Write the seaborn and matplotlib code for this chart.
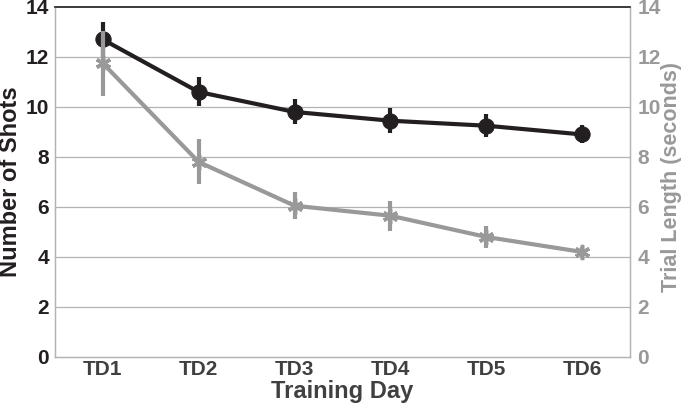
import numpy as np
import pandas as pd
import seaborn as sns
import matplotlib
matplotlib.use("Agg")
import matplotlib.pyplot as plt

# data
days = ["TD1", "TD2", "TD3", "TD4", "TD5", "TD6"]
shots = [12.7, 10.6, 9.8, 9.45, 9.25, 8.9]
shots_err = [0.7, 0.58, 0.5, 0.5, 0.45, 0.36]
trial_len = [11.75, 7.8, 6.05, 5.65, 4.8, 4.2]
trial_err = [1.3, 0.9, 0.55, 0.6, 0.45, 0.2]

BLACK = "#231f20"
GRAY = "#999999"
GRID = "#b3b3b3"

sns.set_theme(style="white")
plt.rcParams["font.family"] = ["Liberation Sans", "DejaVu Sans"]
plt.rcParams["font.weight"] = "bold"

df = pd.DataFrame({"day": days, "x": np.arange(len(days)), "shots": shots,
                   "shots_err": shots_err, "trial": trial_len, "trial_err": trial_err})

fig = plt.figure(figsize=(6.85, 4.08), dpi=100)
ax = fig.add_axes([0.080, 0.125, 0.840, 0.858])
ax2 = ax.twinx()

for y in range(2, 14, 2):
    ax.axhline(y, color=GRID, lw=0.9, zorder=0)

# black series: shots
ax.errorbar(df["x"], df["shots"], yerr=df["shots_err"], fmt="none",
            ecolor=BLACK, elinewidth=3, capsize=0, zorder=2)
sns.lineplot(data=df, x="x", y="shots", ax=ax, color=BLACK, lw=3,
             marker="o", markersize=11, markeredgecolor=BLACK, zorder=3)

# gray series: trial length
ax2.errorbar(df["x"], df["trial"], yerr=df["trial_err"], fmt="none",
             ecolor=GRAY, elinewidth=3, capsize=0, zorder=2)
sns.lineplot(data=df, x="x", y="trial", ax=ax2, color=GRAY, lw=3,
             marker=(6, 2, 0), markersize=11, markeredgewidth=2.5,
             markeredgecolor=GRAY, zorder=3)

for a in (ax, ax2):
    a.set_xlim(-0.5, 5.5)
    a.set_ylim(0, 14)
    a.set_yticks(range(0, 15, 2))
    for s in a.spines.values():
        s.set_color(GRID)
        s.set_linewidth(0.9)
    a.spines["top"].set_color("#3a3a3a")
    a.spines["top"].set_linewidth(1.2)

ax.set_xticks(df["x"])
ax.set_xticklabels(days)
ax.tick_params(axis="x", length=0, labelsize=15, labelcolor="#404040", pad=2)
ax.tick_params(axis="y", length=0, labelsize=15, labelcolor=BLACK, pad=4)
ax2.tick_params(axis="y", length=0, labelsize=15, labelcolor=GRAY, pad=5)

ax.set_xlabel("Training Day", fontsize=17, fontweight="bold", color="#404040")
ax.set_ylabel("Number of Shots", fontsize=17, fontweight="bold", color=BLACK)
ax2.set_ylabel("Trial Length (seconds)", fontsize=15.5, fontweight="bold", color=GRAY)
ax.xaxis.set_label_coords(0.5, -0.066)
ax.yaxis.set_label_coords(-0.057, 0.5)
ax2.yaxis.set_label_coords(1.054, 0.515)

fig.savefig("out.png", dpi=100)
